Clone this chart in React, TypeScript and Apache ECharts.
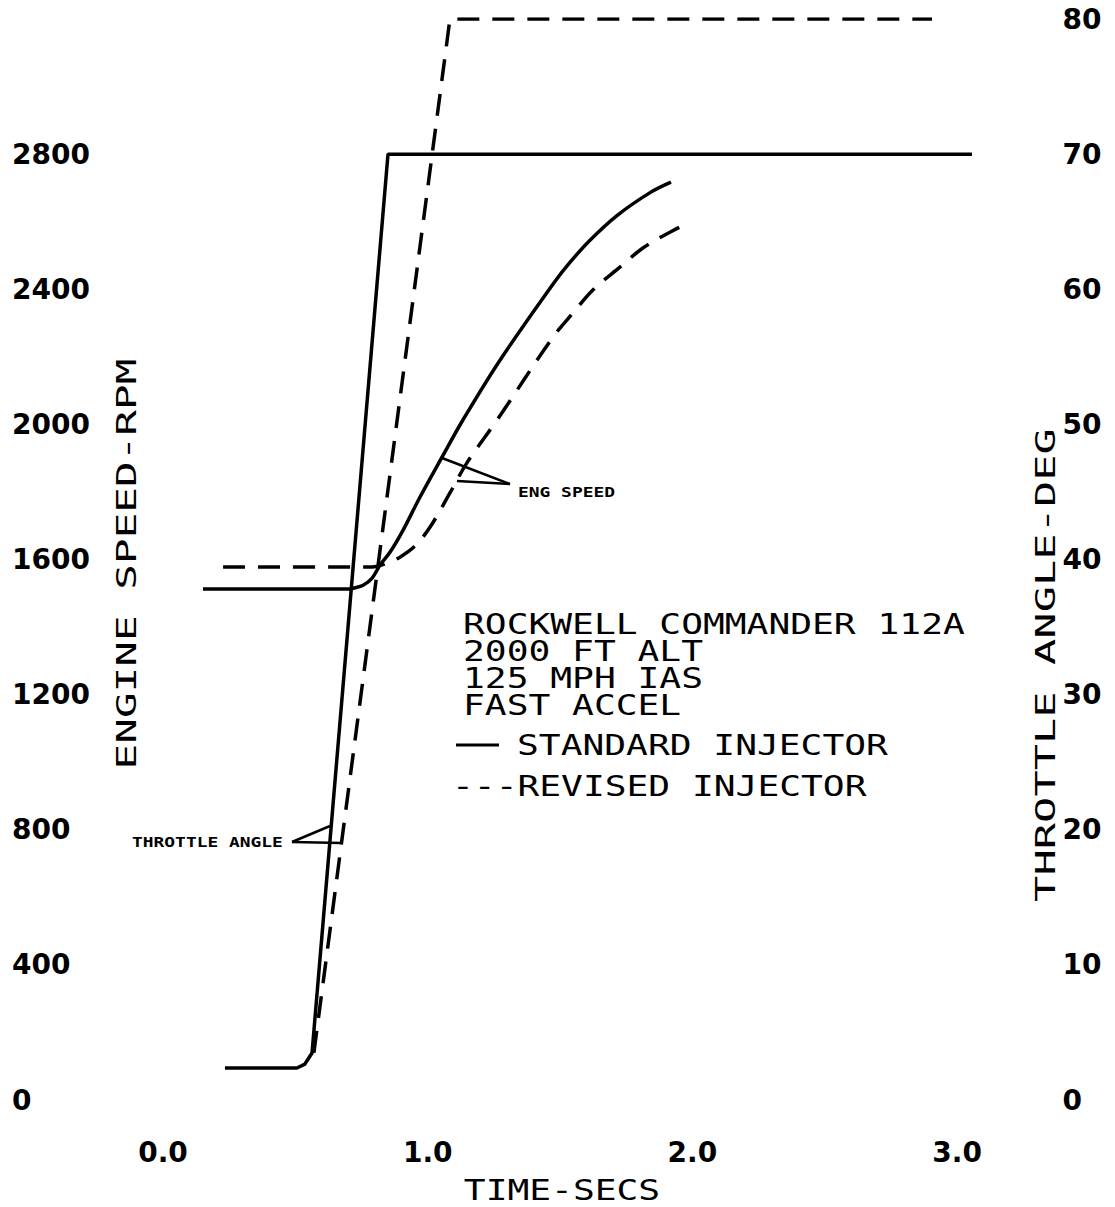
import React, { useEffect, useRef } from "react";
import * as echarts from "echarts";

// ---- data ----
const stdSpeedT = [0.151, 0.706, 0.718, 0.756, 0.79, 0.82, 0.858, 0.907, 0.971, 1.054, 1.133, 1.273, 1.473, 1.538, 1.613, 1.715, 1.84, 1.919];
const stdSpeedRpm = [1513, 1513, 1515, 1524, 1545, 1584, 1622, 1687, 1785, 1903, 2013, 2190, 2415, 2480, 2545, 2618, 2686, 2717];

const revSpeedT = [0.227, 0.79, 0.839, 0.895, 0.952, 1.009, 1.084, 1.148, 1.262, 1.473, 1.549, 1.624, 1.727, 1.813, 1.915, 1.991];
const revSpeedRpm = [1578, 1578, 1587, 1607, 1640, 1696, 1797, 1886, 2013, 2258, 2330, 2398, 2466, 2522, 2569, 2599];

const stdThrottleT = [0.234, 0.506, 0.536, 0.563, 0.85, 3.056];
const stdThrottleDeg = [2.37, 2.37, 2.66, 3.48, 70, 70];

const revThrottleT = [0.57, 1.084, 2.905];
const revThrottleDeg = [3.5, 80, 80];

const infoLines = ["ROCKWELL COMMANDER 112A", "2000 FT ALT", "125 MPH IAS", "FAST ACCEL"];
const legendStd = "STANDARD INJECTOR";
const legendRev = "---REVISED INJECTOR";

const zip = (a: number[], b: number[]) => a.map((v, i) => [v, b[i]]);

const MONO = '"DejaVu Sans Mono", monospace';
const TICKFONT = '"DejaVu Sans", sans-serif';

function txt(text: string, x: number, y: number, size: number, scale: number, o: any = {}) {
  return {
    type: "text",
    x,
    y,
    scaleX: scale,
    rotation: o.rot || 0,
    silent: true,
    style: {
      text,
      x: 0,
      y: 0,
      fill: "#000",
      font: `${o.weight || "normal"} ${size}px ${MONO}`,
      textAlign: o.align || "left",
      verticalAlign: "middle",
      textVerticalAlign: "middle",
    },
  };
}

function ln(x1: number, y1: number, x2: number, y2: number, w = 2.5) {
  return { type: "line", silent: true, shape: { x1, y1, x2, y2 }, style: { stroke: "#000", lineWidth: w } };
}

export default function App() {
  const ref = useRef<HTMLDivElement>(null);
  useEffect(() => {
    if (!ref.current) return;
    const chart = echarts.init(ref.current, null, { renderer: "svg" });
    const black = "#000";
    const option: any = {
      animation: false,
      backgroundColor: "#fff",
      grid: { left: 163, right: 131.4, top: 19, bottom: 107 },
      xAxis: {
        type: "value",
        min: 0,
        max: 3.1,
        interval: 1,
        axisLine: { show: false },
        axisTick: { show: false },
        splitLine: { show: false },
        axisLabel: {
          margin: 52,
          verticalAlign: "middle",
          color: black,
          fontFamily: TICKFONT,
          fontWeight: "bold",
          fontSize: 28,
          formatter: (v: number) => (Math.abs(v - Math.round(v)) < 1e-9 ? v.toFixed(1) : ""),
        },
      },
      yAxis: [
        {
          type: "value",
          min: 0,
          max: 3200,
          interval: 400,
          position: "left",
          axisLine: { show: false },
          axisTick: { show: false },
          splitLine: { show: false },
          axisLabel: {
            align: "left",
            margin: 151,
            color: black,
            fontFamily: TICKFONT,
            fontWeight: "bold",
            fontSize: 28,
            formatter: (v: number) => (v >= 3200 ? "" : String(v)),
          },
        },
        {
          type: "value",
          min: 0,
          max: 80,
          interval: 10,
          position: "right",
          axisLine: { show: false },
          axisTick: { show: false },
          splitLine: { show: false },
          axisLabel: {
            align: "left",
            margin: 79,
            color: black,
            fontFamily: TICKFONT,
            fontWeight: "bold",
            fontSize: 28,
          },
        },
      ],
      series: [
        {
          name: "Engine speed (standard)",
          type: "line",
          yAxisIndex: 0,
          data: zip(stdSpeedT, stdSpeedRpm),
          showSymbol: false,
          symbol: "none",
          smooth: 0.35,
          lineStyle: { color: black, width: 3.5 },
        },
        {
          name: "Engine speed (revised)",
          type: "line",
          yAxisIndex: 0,
          data: zip(revSpeedT, revSpeedRpm),
          showSymbol: false,
          symbol: "none",
          smooth: 0.35,
          lineStyle: { color: black, width: 3.5, type: [22, 13] },
        },
        {
          name: "Throttle angle (standard)",
          type: "line",
          yAxisIndex: 1,
          data: zip(stdThrottleT, stdThrottleDeg),
          showSymbol: false,
          symbol: "none",
          lineStyle: { color: black, width: 3.5 },
        },
        {
          name: "Throttle angle (revised)",
          type: "line",
          yAxisIndex: 1,
          data: zip(revThrottleT, revThrottleDeg),
          showSymbol: false,
          symbol: "none",
          lineStyle: { color: black, width: 3.5, type: [22, 13] },
        },
      ],
      graphic: [
        // axis titles
        txt("ENGINE SPEED-RPM", 127, 564, 27, 1.58, { align: "center", rot: Math.PI / 2 }),
        txt("THROTTLE ANGLE-DEG", 1046, 665, 27, 1.62, { align: "center", rot: Math.PI / 2 }),
        txt("TIME-SECS", 562, 1190, 29, 1.25, { align: "center" }),
        // info block
        txt(infoLines[0], 463, 624, 29, 1.25),
        txt(infoLines[1], 463, 651, 29, 1.25),
        txt(infoLines[2], 463, 678, 29, 1.25),
        txt(infoLines[3], 463, 705, 29, 1.25),
        ln(456, 745, 499, 745, 3),
        txt(legendStd, 517, 745, 29, 1.25),
        txt(legendRev, 452, 786, 29, 1.25),
        // curve annotations
        txt("ENG SPEED", 518, 492, 14, 1.28, { weight: "bold" }),
        ln(510, 484, 442, 458),
        ln(510, 484, 457, 481),
        txt("THROTTLE ANGLE", 132, 842, 14, 1.28, { weight: "bold" }),
        ln(292, 842, 330, 826),
        ln(292, 842, 342, 843),
      ],
    };
    chart.setOption(option);
    return () => chart.dispose();
  }, []);
  return (
    <div
      ref={ref}
      style={{ position: "absolute", left: 0, top: 0, width: 1115, height: 1207, background: "#fff" }}
    />
  );
}
